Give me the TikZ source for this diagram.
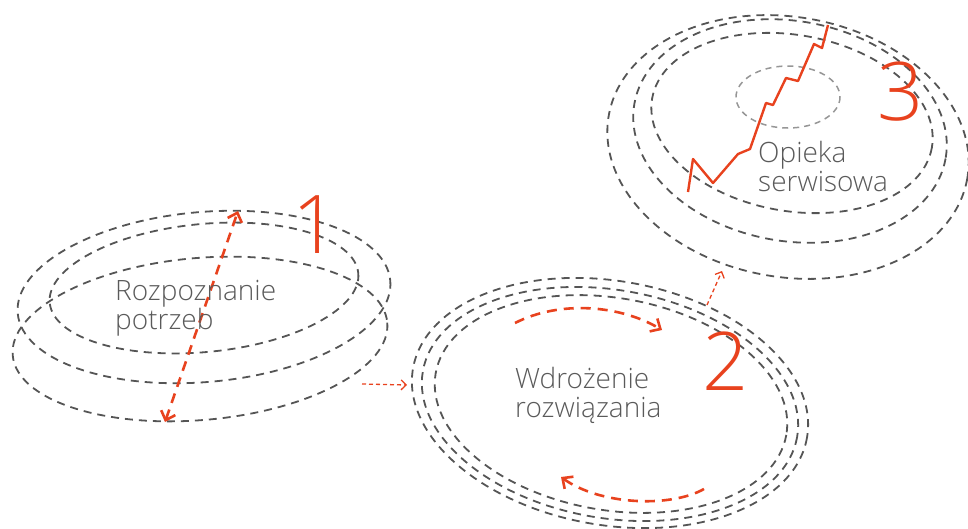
\documentclass[tikz,border=0pt]{standalone}
\usepackage{fontspec}
\setmainfont{Open Sans Light}
\usetikzlibrary{arrows.meta}
\definecolor{ringgray}{RGB}{85,85,85}
\definecolor{lightring}{RGB}{150,150,150}
\definecolor{accent}{RGB}{232,66,30}
\definecolor{labelgray}{RGB}{90,90,90}
\begin{document}
\begin{tikzpicture}[x=1pt,y=-1pt,
  ring/.style={draw=ringgray, line width=1.8pt, dash pattern=on 8pt off 6pt},
  corering/.style={draw=lightring, line width=1.5pt, dash pattern=on 6pt off 5pt},
  flow/.style={draw=accent, line width=2.6pt, dash pattern=on 10pt off 7pt},
  hop/.style={draw=accent, line width=1.3pt, dash pattern=on 4pt off 3pt,
    -{Straight Barb[length=5pt,width=10pt]}},
  growth/.style={draw=accent, line width=2.4pt, line join=round},
  stage/.style={text=labelgray, align=left, anchor=base west,
    font=\fontsize{28}{29}\selectfont, inner sep=0pt},
  digit/.style={text=accent, anchor=base, font=\fontsize{81}{81}\selectfont, inner sep=0pt}
]
\useasboundingbox (0,0) rectangle (968,528);

% stage 1: needs analysis
\draw[ring, rotate around={5:(204,297)}] (204,297) ellipse [x radius=187, y radius=85];
\draw[ring, rotate around={5.5:(204,288)}] (204,288) ellipse [x radius=155, y radius=64];
\draw[ring, rotate around={5:(200,339)}] (200,339) ellipse [x radius=188, y radius=81];
\coordinate (s1low) at (165,422);
\coordinate (s1top) at (238,211);
\draw[flow, {Straight Barb[length=8pt,width=15pt]}-{Straight Barb[length=8pt,width=15pt]}] (s1low) -- (s1top);
% the base anchor of a two-line node sits on its last line
\node[stage] (need) at (115,329) {Rozpoznanie\\potrzeb};
\node[digit] (one) at (316,253) {1};

% stage 2: implementation
\draw[ring, rotate around={-10:(610,403)}] (610,403) ellipse [x radius=200, y radius=122];
\draw[ring, rotate around={-10:(610,404)}] (610,404) ellipse [x radius=190, y radius=114];
\draw[ring, rotate around={-10:(611,404)}] (611,404) ellipse [x radius=178, y radius=106];
\coordinate (s2a) at (515,323);
\coordinate (s2b) at (662,330);
\coordinate (s2c) at (704,489);
\coordinate (s2d) at (561,477);
\draw[flow, -{Straight Barb[length=8pt,width=15pt]}] (s2a) .. controls (560,300) and (620,305) .. (s2b);
\draw[flow, -{Straight Barb[length=8pt,width=15pt]}] (s2c) .. controls (670,508) and (600,505) .. (s2d);
\node[stage] (impl) at (515,417) {Wdrożenie\\rozwiązania};
\node[digit] (two) at (726,390) {2};

% stage 3: service care
\draw[ring, rotate around={-10:(788,147)}] (788,147) ellipse [x radius=182, y radius=130];
\draw[ring, rotate around={-10:(790,131)}] (790,131) ellipse [x radius=158, y radius=110];
\draw[ring, rotate around={-10:(792,123)}] (792,123) ellipse [x radius=142, y radius=88];
\draw[corering] (788,97) ellipse [x radius=52, y radius=31];
\draw[growth] (688,192) -- (693,159) -- (713,183) -- (738,154) -- (750,149)
  -- (766,103) -- (773,105) -- (786,78) -- (798,81) -- (814,44) -- (822,48) -- (828,25);
\node[stage] (care) at (758,191) {Opieka\\serwisowa};
\node[digit] (three) at (901,120) {3};

% transitions between stages
\coordinate (h1s) at (362,384);
\coordinate (h1e) at (407,385);
\draw[hop] (h1s) -- (h1e);
\coordinate (h2s) at (707,305);
\coordinate (h2e) at (722,271);
\draw[hop] (h2s) -- (h2e);
\end{tikzpicture}
\end{document}
